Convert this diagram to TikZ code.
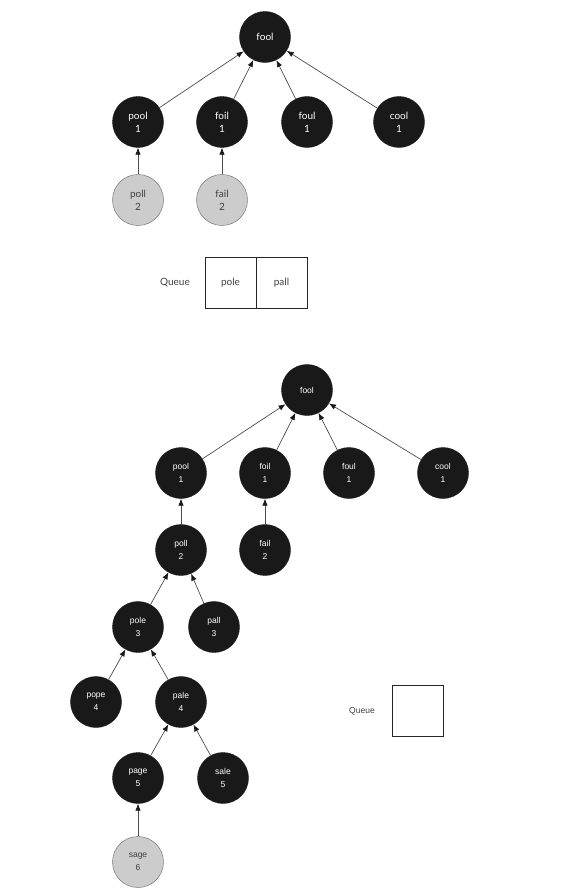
\documentclass[tikz,border=0pt]{standalone}
\usepackage{fontspec}
\setmainfont{Lato}
\newfontfamily\helv{Liberation Sans}
\usetikzlibrary{arrows.meta}
\newcommand\treefont{\fontsize{10}{13}\selectfont}

\begin{document}
\begin{tikzpicture}[x=1pt,y=-1pt,
  word/.style={circle,fill=black!90,draw=black!90,text=white,minimum size=51pt,inner sep=0pt,align=center,font=\treefont},
  seen/.style={word,fill=black!20,draw=black!60,text=black!75},
  link/.style={draw=black!70,line width=0.7pt,-{Latex[length=7pt,width=5.5pt,color=black!90]}},
  cell/.style={draw=black!85,line width=0.7pt,minimum size=51pt,inner sep=0pt,text=black!75,font=\treefont},
  label/.style={text=black!75,font=\treefont}]
  \useasboundingbox (0,0) rectangle (574,890);
  % first step: pool and foil expanded
  \node[word] (fool) at (265,37) {fool};
  \node[word] (pool) at (138,122) {pool\\1};
  \node[word] (foil) at (222,122) {foil\\1};
  \node[word] (foul) at (307,122) {foul\\1};
  \node[word] (cool) at (399,122) {cool\\1};
  \node[seen] (poll) at (138,200) {poll\\2};
  \node[seen] (fail) at (222,200) {fail\\2};
  \foreach \n in {pool,foil,foul,cool}
    \draw[link] (\n) -- (fool);
  \draw[link] (poll) -- (pool);
  \draw[link] (fail) -- (foil);
  \node[label] (queue) at (175,283) {Queue};
  \node[cell] (q1) at (230.5,282.5) {pole};
  \node[cell] (q2) at (281.5,282.5) {pall};

  % second step: queue empty, sage found
  \begin{scope}
  \renewcommand\treefont{\helv\fontsize{8.5}{13}\selectfont}
  \node[word] (fool2) at (307,390) {fool};
  \node[word] (pool2) at (181,473) {pool\\1};
  \node[word] (foil2) at (265,473) {foil\\1};
  \node[word] (foul2) at (349,473) {foul\\1};
  \node[word] (cool2) at (443,473) {cool\\1};
  \node[word] (poll2) at (181,550) {poll\\2};
  \node[word] (fail2) at (265,550) {fail\\2};
  \node[word] (pole2) at (138,627) {pole\\3};
  \node[word] (pall2) at (214,627) {pall\\3};
  \node[word] (pope2) at (96,702) {pope\\4};
  \node[word] (pale2) at (181,702) {pale\\4};
  \node[word] (page2) at (138,778) {page\\5};
  \node[word] (sale2) at (223,778) {sale\\5};
  \node[seen] (sage2) at (138,862) {sage\\6};
  \foreach \n in {pool2,foil2,foul2,cool2}
    \draw[link] (\n) -- (fool2);
  \draw[link] (poll2) -- (pool2);
  \draw[link] (fail2) -- (foil2);
  \draw[link] (pole2) -- (poll2);
  \draw[link] (pall2) -- (poll2);
  \draw[link] (pope2) -- (pole2);
  \draw[link] (pale2) -- (pole2);
  \draw[link] (page2) -- (pale2);
  \draw[link] (sale2) -- (pale2);
  \draw[link] (sage2) -- (page2);
  \node[label] (queue2) at (362,711) {Queue};
  \node[cell] (q3) at (417.5,710.5) {};
  \end{scope}
\end{tikzpicture}
\end{document}
